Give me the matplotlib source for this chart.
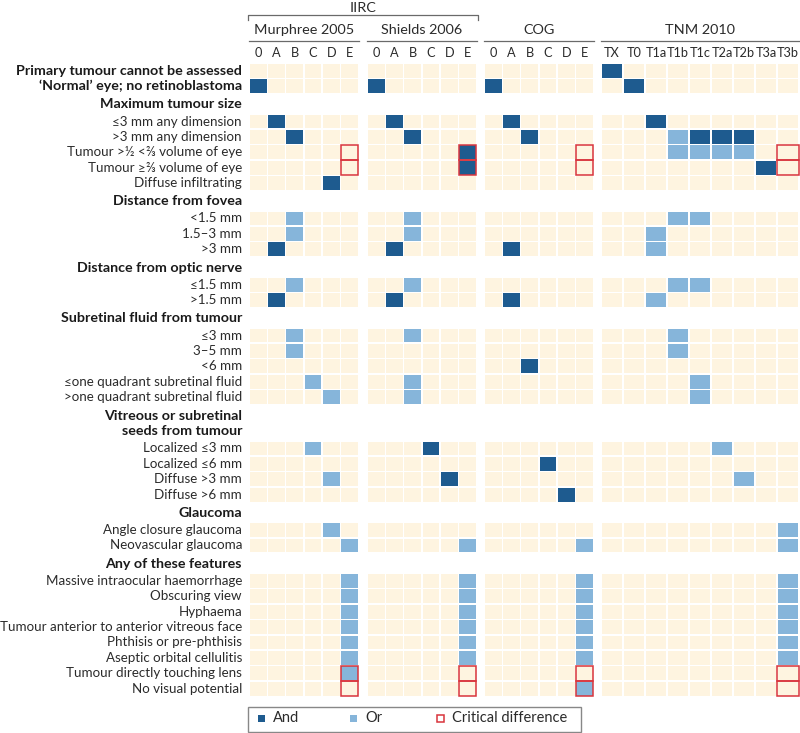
import matplotlib.pyplot as plt
from matplotlib.patches import Rectangle

plt.rcParams['font.family'] = ['Lato', 'DejaVu Sans']

# -----------------------------------
# DATA
# -----------------------------------

group_names = ["Murphree 2005", "Shields 2006", "COG", "TNM 2010"]

group_columns = [
    ["0", "A", "B", "C", "D", "E"],
    ["0", "A", "B", "C", "D", "E"],
    ["0", "A", "B", "C", "D", "E"],
    ["TX", "T0", "T1a", "T1b", "T1c", "T2a", "T2b", "T3a", "T3b"],
]

section_headers = [
    None,
    "Maximum tumour size",
    "Distance from fovea",
    "Distance from optic nerve",
    "Subretinal fluid from tumour",
    "Vitreous or subretinal\nseeds from tumour",
    "Glaucoma",
    "Any of these features",
]

section_rows = [
    ["Primary tumour cannot be assessed",
     "\u2018Normal\u2019 eye; no retinoblastoma"],
    ["\u22643 mm any dimension",
     ">3 mm any dimension",
     "Tumour >\u00bd <\u2154 volume of eye",
     "Tumour \u2265\u2154 volume of eye",
     "Diffuse infiltrating"],
    ["<1.5 mm", "1.5\u20133 mm", ">3 mm"],
    ["\u22641.5 mm", ">1.5 mm"],
    ["\u22643 mm", "3\u20135 mm", "<6 mm",
     "\u2264one quadrant subretinal fluid",
     ">one quadrant subretinal fluid"],
    ["Localized \u22643 mm", "Localized \u22646 mm",
     "Diffuse >3 mm", "Diffuse >6 mm"],
    ["Angle closure glaucoma", "Neovascular glaucoma"],
    ["Massive intraocular haemorrhage",
     "Obscuring view",
     "Hyphaema",
     "Tumour anterior to anterior vitreous face",
     "Phthisis or pre-phthisis",
     "Aseptic orbital cellulitis",
     "Tumour directly touching lens",
     "No visual potential"],
]

# one string per row, groups: Murphree | Shields | COG | TNM
# a = And, o = Or, . = nothing
row_codes = [
    "...... ...... ...... a........",
    "a..... a..... a..... .a.......",
    ".a.... .a.... .a.... ..a......",
    "..a... ..a... ..a... ...oaaa..",
    "...... .....a ...... ...oooo..",
    "...... .....a ...... .......a.",
    "....a. ...... ...... .........",
    "..o... ..o... ...... ...oo....",
    "..o... ..o... ...... ..o......",
    ".a.... .a.... .a.... ..o......",
    "..o... ..o... ...... ...oo....",
    ".a.... .a.... .a.... ..o......",
    "..o... ..o... ...... ...o.....",
    "..o... ...... ...... ...o.....",
    "...... ...... ..a... .........",
    "...o.. ..o... ...... ....o....",
    "....o. ..o... ...... ....o....",
    "...o.. ...a.. ...... .....o...",
    "...... ...... ...a.. .........",
    "....o. ....a. ...... ......o..",
    "...... ...... ....a. .........",
    "....o. ...... ...... ........o",
    ".....o .....o .....o ........o",
    ".....o .....o .....o ........o",
    ".....o .....o .....o ........o",
    ".....o .....o .....o ........o",
    ".....o .....o .....o ........o",
    ".....o .....o .....o ........o",
    ".....o .....o .....o ........o",
    ".....o ...... ...... .........",
    "...... ...... .....o .........",
]

# cells outlined as critical difference: (row label) x (group, column)
critical_rows = ["Tumour >\u00bd <\u2154 volume of eye",
                 "Tumour \u2265\u2154 volume of eye",
                 "Tumour directly touching lens",
                 "No visual potential"]
critical_cols = [(0, "E"), (1, "E"), (2, "E"), (3, "T3b")]

# -----------------------------------
# STYLE
# -----------------------------------

cream = "#FEF4E0"
dark_blue = "#1E5B8F"
light_blue = "#86B5DA"
red = "#D9343C"
text_col = "#2b2b2b"
line_col = "#6a6a6a"

fill_colors = {".": cream, "a": dark_blue, "o": light_blue}

group_x0 = [249, 367, 484, 601]
group_cw = [18.3, 18.3, 18.3, 22.0]
row_h = 15.4
label_x = 242
fs = 9.6
fs_bold = 10.3

fig = plt.figure(figsize=(8, 7.33), dpi=100)
ax = fig.add_axes([0, 0, 1, 1])
ax.set_xlim(0, 800)
ax.set_ylim(733, 0)
ax.axis("off")

# -----------------------------------
# ROW POSITIONS + LABELS
# -----------------------------------

y = 63
row_tops = {}
row_order = []
for si, (header, rows) in enumerate(zip(section_headers, section_rows)):
    if header is not None:
        lines = header.split("\n")
        y += 20 if len(lines) == 1 else 36
        for k, line in enumerate(reversed(lines)):
            ax.text(label_x, y - 9.5 - 15 * k, line, ha="right", va="center",
                    fontsize=fs_bold, fontweight="bold", color="#1a1a1a")
    for label in rows:
        row_tops[label] = y
        row_order.append(label)
        ax.text(label_x, y + row_h / 2, label, ha="right", va="center",
                fontsize=fs_bold if si == 0 else fs,
                color="#1a1a1a" if si == 0 else text_col,
                fontweight="bold" if si == 0 else "normal")
        y += row_h

# -----------------------------------
# CELLS
# -----------------------------------

gap = 1.6
for label, code in zip(row_order, row_codes):
    parts = code.split(" ")
    yt = row_tops[label]
    for gi, cols in enumerate(group_columns):
        for ci, c in enumerate(parts[gi]):
            x = group_x0[gi] + ci * group_cw[gi]
            ax.add_patch(Rectangle((x + gap / 2, yt + gap / 2),
                                   group_cw[gi] - gap, row_h - gap,
                                   facecolor=fill_colors[c], edgecolor="none"))

for label in critical_rows:
    yt = row_tops[label]
    for gi, col in critical_cols:
        ci = group_columns[gi].index(col)
        x = group_x0[gi] + ci * group_cw[gi]
        ax.add_patch(Rectangle((x + 0.4, yt + 0.4),
                               group_cw[gi] - 0.8, row_h - 0.8,
                               facecolor="none", edgecolor=red, linewidth=1.1))

# -----------------------------------
# COLUMN HEADERS
# -----------------------------------

for gi, name in enumerate(group_names):
    x0 = group_x0[gi]
    x1 = x0 + len(group_columns[gi]) * group_cw[gi]
    ax.plot([x0, x1], [40.7, 40.7], color=line_col, lw=0.9)
    ax.text((x0 + x1) / 2, 30, name, ha="center", va="center",
            fontsize=10.4, color=text_col)
    for ci, col in enumerate(group_columns[gi]):
        ax.text(x0 + (ci + 0.5) * group_cw[gi], 53, col, ha="center",
                va="center", fontsize=9.2, color=text_col)

# IIRC bracket over Murphree and Shields
bx0 = group_x0[0] - 1
bx1 = group_x0[1] + 6 * group_cw[1] + 1
ax.plot([bx0, bx0, bx1, bx1], [20, 15, 15, 20], color=line_col, lw=0.9)
ax.text((bx0 + bx1) / 2, 8, "IIRC", ha="center", va="center",
        fontsize=10.4, color=text_col)

# -----------------------------------
# LEGEND
# -----------------------------------

ax.add_patch(Rectangle((248, 707), 333, 25, facecolor="white",
                       edgecolor="#888888", linewidth=1))
legend_items = [("And", dark_blue, "none", 257.5),
                ("Or", light_blue, "none", 350),
                ("Critical difference", "white", red, 437)]
for text, fc, ec, lx in legend_items:
    ax.add_patch(Rectangle((lx, 714.5), 7, 7, facecolor=fc, edgecolor=ec,
                           linewidth=1.1))
    ax.text(lx + 15, 718.5, text, ha="left", va="center", fontsize=10.5,
            color=text_col)

plt.savefig("out.png", dpi=100)
